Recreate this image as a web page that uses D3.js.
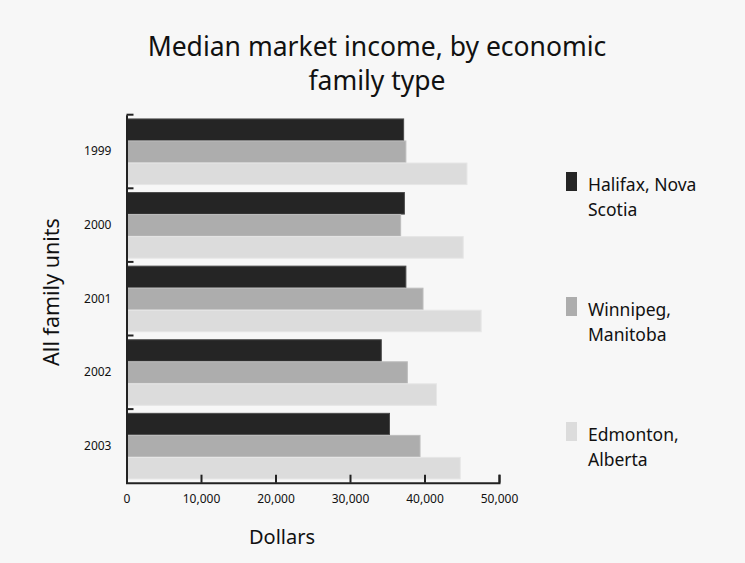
<!DOCTYPE html>
<html>
<head>
<meta charset="utf-8">
<script src="https://cdn.jsdelivr.net/npm/d3@7"></script>
<style>
  html, body { margin: 0; padding: 0; background: #f7f7f7; }
  svg { display: block; }
  text { font-family: "Noto Sans", "DejaVu Sans", sans-serif; fill: #111; }
</style>
</head>
<body>
<svg id="chart" width="745" height="563"></svg>
<script>
// Median market income (dollars) by year and city
const years = ["1999", "2000", "2001", "2002", "2003"];
const seriesNames = ["Halifax, Nova Scotia", "Winnipeg, Manitoba", "Edmonton, Alberta"];
const legendLines = [["Halifax, Nova", "Scotia"], ["Winnipeg,", "Manitoba"], ["Edmonton,", "Alberta"]];
const halifax  = [37200, 37300, 37500, 34200, 35300];
const winnipeg = [37500, 36800, 39800, 37700, 39400];
const edmonton = [45700, 45200, 47600, 41600, 44800];
const xTicks = [0, 10000, 20000, 30000, 40000, 50000];
const titleLines = ["Median market income, by economic", "family type"];
const xTitle = "Dollars";
const yTitle = "All family units";

const fills   = ["#252525", "#adadad", "#dcdcdc"];
const strokes = ["#4a4a4a", "#bdbdbd", "#e6e6e6"];

const values = [halifax, winnipeg, edmonton];
const rows = years.map((y, i) => ({ year: y, vals: values.map(v => v[i]) }));

const svg = d3.select("#chart");
svg.append("rect").attr("width", 745).attr("height", 563).attr("fill", "#f7f7f7");

const plot = { left: 126.5, right: 499, top: 114.7, bottom: 482.7 };

const x = d3.scaleLinear().domain([0, 50000]).range([plot.left, plot.right]);
const y = d3.scaleBand().domain(years).range([plot.top, plot.bottom]).padding(0);
const sub = d3.scaleBand().domain(d3.range(seriesNames.length))
  .range([0, y.bandwidth()]).paddingInner(0).paddingOuter(0.17);

// Bars
const groups = svg.append("g").selectAll("g").data(rows).join("g")
  .attr("transform", d => `translate(0,${y(d.year)})`);
groups.selectAll("rect").data(d => d.vals.map((v, k) => ({ v, k }))).join("rect")
  .attr("x", x(0))
  .attr("y", d => sub(d.k) + 0.5)
  .attr("width", d => x(d.v) - x(0))
  .attr("height", sub.bandwidth() - 0.5)
  .attr("fill", d => fills[d.k])
  .attr("stroke", d => strokes[d.k])
  .attr("stroke-width", 1);

// X axis: ticks point up into the plot
const xAxis = d3.axisBottom(x).tickValues(xTicks).tickFormat(d3.format(",")).tickSize(-8).tickPadding(12);
const gx = svg.append("g").attr("transform", `translate(0,${plot.bottom})`).call(xAxis);
gx.select(".domain").attr("stroke", "#222").attr("stroke-width", 2);
gx.selectAll(".tick line").attr("stroke", "#222").attr("stroke-width", 2);
gx.selectAll(".tick text").attr("font-size", 12).attr("font-family", "DejaVu Sans, sans-serif").attr("fill", "#111");

// Y axis: labels centred in each band, ticks on band edges pointing right
const yAxis = d3.axisLeft(y).tickSize(0).tickPadding(15);
const gy = svg.append("g").attr("transform", `translate(${plot.left},0)`).call(yAxis);
gy.select(".domain").attr("stroke", "#222").attr("stroke-width", 2);
gy.selectAll(".tick text").attr("font-size", 12).attr("font-family", "DejaVu Sans, sans-serif").attr("fill", "#111");
gy.append("g").selectAll("line").data(years).join("line")
  .attr("x1", 0).attr("x2", 7)
  .attr("y1", d => y(d)).attr("y2", d => y(d))
  .attr("stroke", "#222").attr("stroke-width", 2);

// Titles
svg.append("g").selectAll("text").data(titleLines).join("text")
  .attr("x", 377).attr("y", (d, i) => 56 + i * 34)
  .attr("text-anchor", "middle").attr("font-size", 26.5)
  .text(d => d);

svg.append("text").attr("x", 282).attr("y", 544)
  .attr("text-anchor", "middle").attr("font-size", 20).text(xTitle);

svg.append("text").attr("transform", "translate(59,292) rotate(-90)")
  .attr("text-anchor", "middle").attr("font-size", 21.5).text(yTitle);

// Legend
const legend = svg.append("g").selectAll("g").data(seriesNames).join("g")
  .attr("transform", (d, i) => `translate(566,${172 + i * 125})`);
legend.append("rect").attr("width", 11).attr("height", 19)
  .attr("fill", (d, i) => fills[i]);
legend.append("text").attr("x", 22).attr("y", 19).attr("font-size", 17.5)
  .selectAll("tspan").data((d, i) => legendLines[i]).join("tspan")
  .attr("x", 22).attr("dy", (d, j) => j === 0 ? 0 : 24.5)
  .text(d => d);
</script>
</body>
</html>
